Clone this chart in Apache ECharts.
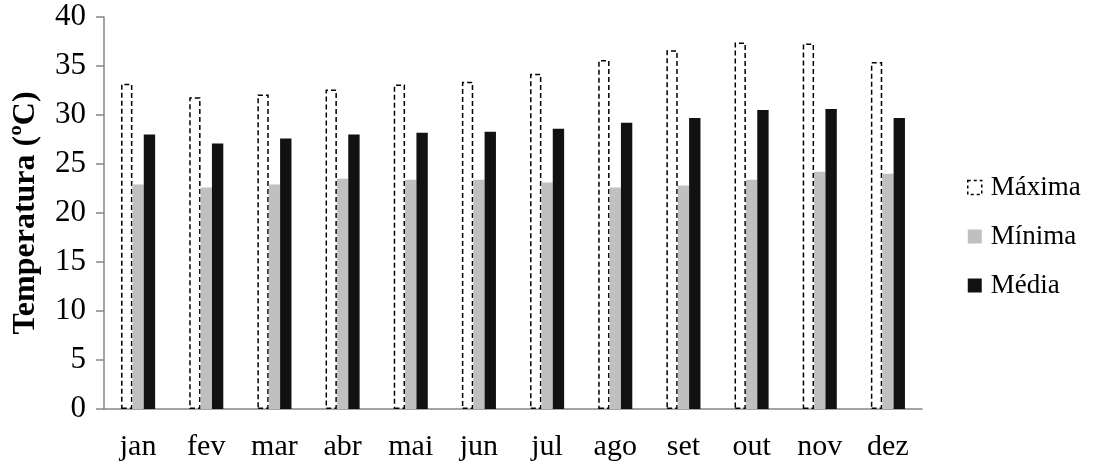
<!DOCTYPE html>
<html><head><meta charset="utf-8">
<script src="https://cdn.jsdelivr.net/npm/echarts@6/dist/echarts.min.js"></script>
<style>html,body{margin:0;padding:0;background:#fff}#c{width:1101px;height:467px}</style>
</head><body><div id="c"></div>
<script>
const categories = ['jan','fev','mar','abr','mai','jun','jul','ago','set','out','nov','dez'];
const maxima = [33.2, 31.8, 32.1, 32.6, 33.1, 33.4, 34.2, 35.6, 36.6, 37.4, 37.3, 35.4];
const minima = [22.9, 22.6, 22.9, 23.5, 23.4, 23.4, 23.1, 22.6, 22.8, 23.4, 24.2, 24.0];
const media  = [28.0, 27.1, 27.6, 28.0, 28.2, 28.3, 28.6, 29.2, 29.7, 30.5, 30.6, 29.7];
const yTicks = [0, 5, 10, 15, 20, 25, 30, 35, 40];

const FONT = '"Liberation Serif", "Times New Roman", serif';
const chart = echarts.init(document.getElementById('c'), null, {renderer: 'canvas'});
chart.setOption({
  animation: false,
  backgroundColor: '#fff',
  textStyle: {fontFamily: FONT},
  grid: {left: 104, right: 179, top: 17, bottom: 58, containLabel: false},
  legend: {
    orient: 'vertical', left: 962, top: 169,
    icon: 'rect',
    itemWidth: 14, itemHeight: 14, itemGap: 22,
    textStyle: {fontFamily: FONT, fontSize: 27, color: '#000', padding: [0,0,0,4]},
    data: [
      {name: 'Máxima', itemStyle: {color: '#fff', borderColor: '#000', borderWidth: 1.5, borderType: [3, 3]}},
      {name: 'Mínima'},
      {name: 'Média'}
    ]
  },
  xAxis: {
    type: 'category', data: categories,
    axisLine: {lineStyle: {color: '#868686', width: 1.5}},
    axisTick: {show: false},
    axisLabel: {fontFamily: FONT, fontSize: 30, color: '#000', margin: 23}
  },
  yAxis: {
    type: 'value', min: yTicks[0], max: yTicks[yTicks.length-1], interval: 5,
    name: 'Temperatura (ºC)', nameLocation: 'middle', nameGap: 62,
    nameTextStyle: {fontFamily: FONT, fontSize: 32, fontWeight: 'bold', color: '#000'},
    axisLine: {show: true, lineStyle: {color: '#868686', width: 1.5}},
    axisTick: {show: true, inside: false, length: 8, lineStyle: {color: '#868686', width: 1.5}},
    axisLabel: {fontFamily: FONT, fontSize: 31, color: '#000', margin: 18},
    splitLine: {show: false}
  },
  series: [
    {name: 'Máxima', type: 'bar', data: maxima, barGap: '0%', barCategoryGap: '50%',
     itemStyle: {color: '#fff', borderColor: '#000', borderWidth: 1.5, borderType: [5, 3]}},
    {name: 'Mínima', type: 'bar', data: minima, barGap: '0%', barCategoryGap: '50%',
     itemStyle: {color: '#c0c0c0'}},
    {name: 'Média', type: 'bar', data: media, barGap: '0%', barCategoryGap: '50%',
     itemStyle: {color: '#111111'}}
  ]
});
</script></body></html>
